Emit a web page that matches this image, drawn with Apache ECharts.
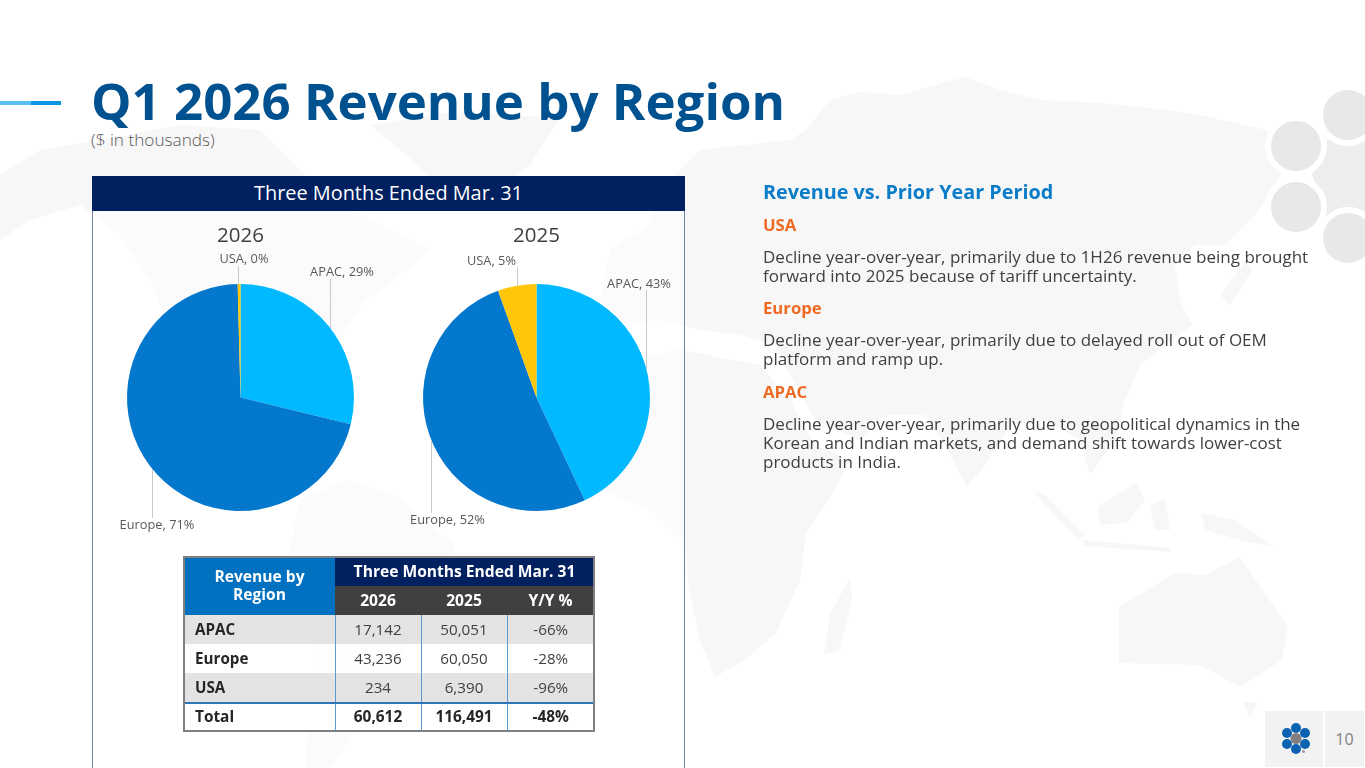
<!DOCTYPE html>
<html><head><meta charset="utf-8">
<script src="https://cdn.jsdelivr.net/npm/echarts@6/dist/echarts.min.js"></script>
<style>
html,body{margin:0;padding:0;background:#fff;overflow:hidden}
#slide{position:relative;width:1365px;height:768px;overflow:hidden;font-family:"Open Sans",sans-serif;color:#404040}
#bg{position:absolute;left:0;top:0}
.abs{position:absolute}
#title{left:91px;top:65px;font-size:51px;font-weight:700;color:#00518f;white-space:nowrap;line-height:70px}
#sub{left:91px;top:129px;font-size:17.2px;font-weight:300;color:#595959;line-height:22px}
#panel{left:92px;top:176px;width:593px;height:600px;border:1px solid #6f86a8;border-top:0;box-sizing:border-box;background:rgba(255,255,255,.5)}
#phead{left:92px;top:176px;width:593px;height:35px;background:#002060;color:#fff;font-size:19.9px;text-align:center;line-height:33px}
#chart{left:0;top:0;width:1365px;height:768px}
#tbl{left:184px;top:557px;width:410px;height:174px;border-collapse:collapse;table-layout:fixed;font-size:15.2px;outline:2px solid #7f7f7f;outline-offset:-1px}
#tbl td{padding:0 0 2px;height:27px;text-align:center;line-height:18px;border-left:1px solid #5b9bd5;box-sizing:content-box}
#tbl td.n{text-align:left;padding-left:11px;font-weight:700;color:#262626;border-left:0}
#tbl tr.s td{background:#e3e3e3}
#tbl tr.w td{background:rgba(255,255,255,.75)}
#tbl tr.t td{font-weight:700;color:#262626;background:#fff;border-top:2px solid #2e75b6;height:25px;font-size:15.4px}
#tbl th{padding:0 0 2px;color:#fff;font-weight:700;font-size:15.6px;line-height:18px}
#side{left:763px;top:177.500px;width:580px;font-size:17px;line-height:19px;color:#404040}
#side h3{margin:0 0 10px;font-size:19.8px;line-height:27px;font-weight:700;color:#0b7cc8}
#side h4{margin:0 0 13.200px;font-size:16.7px;line-height:19px;font-weight:700;color:#ef6b24}
#side p{margin:0 0 13.500px}
#pgn{left:1325px;top:711px;width:39px;height:56px;background:#f2f2f2;color:#7f7f7f;font-size:16px;line-height:56px;text-align:center}
#logoBox{left:1265px;top:711px;width:58px;height:56px;background:#f2f2f2}
</style></head><body>
<div id="slide">
<svg id="bg" width="1365" height="768" viewBox="0 0 1365 768">
 <g fill="#f7f7f7">
  <polygon points="0,175 40,150 100,140 180,125 260,130 300,170 330,200 390,230 430,250 395,280 365,300 345,330 320,365 300,400 270,430 235,420 195,380 170,330 150,280 120,235 80,205 30,220 0,240"/>
  <polygon points="370,125 450,112 560,118 530,165 480,205 440,185 400,150"/>
  <polygon points="300,500 345,480 395,495 455,545 450,590 410,640 380,690 350,740 330,768 305,768 310,700 315,640 285,570"/>
  <polygon points="600,300 610,250 650,225 660,190 700,150 745,145 790,140 806,130 830,100 860,92 900,95 965,77 1000,90 1040,100 1100,103 1150,108 1200,115 1266,130 1290,160 1275,185 1255,215 1225,245 1195,245 1175,265 1180,300 1192,325 1165,345 1140,365 1125,400 1115,440 1090,475 1080,440 1045,420 1010,425 985,465 967,487 945,445 925,415 885,415 860,440 815,420 790,375 775,345 740,335 700,330 660,320 625,325"/>
  <polygon points="585,400 620,360 680,350 760,365 790,400 815,445 850,460 835,490 806,533 800,580 776,633 745,660 715,677 700,640 689,590 685,545 650,510 600,490 580,440"/>
  <polygon points="824,655 830,615 850,577 852,600 840,650"/>
  <polygon points="1119,607 1175,573 1205,575 1240,557 1288,627 1282,660 1240,687 1200,665 1119,663"/>
  <polygon points="1243,702 1258,702 1250,718"/>
  <polygon points="1032,490 1045,495 1085,535 1078,540"/>
  <polygon points="1097,507 1136,483 1145,500 1127,523 1100,525"/>
  <polygon points="1084,540 1170,548 1170,552 1084,546"/>
  <polygon points="1201,513 1235,520 1275,547 1240,540 1205,530"/>
  <polygon points="1150,505 1165,500 1170,530 1155,530"/>
  <polygon points="1220,295 1245,262 1252,270 1230,305"/>
 </g>
 <g id="dots" stroke="#fff" stroke-width="6">
  <path d="M1312 175 L1326 140 L1365 140 L1365 225 L1326 215Z" fill="#ededed" stroke="none"/>
  <circle cx="1296" cy="146" r="28" fill="#e8e8e8"/>
  <circle cx="1296" cy="207" r="28" fill="#e8e8e8"/>
  <circle cx="1348" cy="115" r="28" fill="#e8e8e8"/>
  <circle cx="1348" cy="238" r="28" fill="#e8e8e8"/>
 </g>
 <rect x="0" y="101" width="31" height="4" fill="#56bdf5"/>
 <rect x="31" y="101" width="30" height="4" fill="#0b96e8"/>
</svg>
<div id="title" class="abs"></div>
<div id="sub" class="abs"></div>
<div id="panel" class="abs"></div>
<div id="phead" class="abs"></div>
<div id="chart" class="abs"></div>
<table id="tbl" class="abs"></table>
<div id="side" class="abs"></div>
<div id="logoBox" class="abs"><svg width="58" height="57"><g fill="#0b62b0"><circle cx="31" cy="17" r="5"/><circle cx="22" cy="22" r="5"/><circle cx="40" cy="22" r="5"/><circle cx="22" cy="33" r="5"/><circle cx="40" cy="33" r="5"/><circle cx="31" cy="38" r="5"/></g><circle cx="31" cy="27.5" r="5.5" fill="#7f7f7f"/><circle cx="38.500" cy="40.500" r="1.500" fill="#999"/></svg></div>
<div id="pgn" class="abs">10</div>
</div>
<script>
const titleText = 'Q1 2026 Revenue by Region';
const subText = '($ in thousands)';
const periodText = 'Three Months Ended Mar. 31';
const regions = ['APAC', 'Europe', 'USA'];
const years = ['2026', '2025'];
const colors = ['#00b9ff', '#0478cc', '#ffc60a'];
const share2026 = [28.8, 70.8, 0.4];
const share2025 = [43.0, 51.5, 5.5];
const label2026 = [29, 71, 0];
const label2025 = [43, 52, 5];
const rev2026 = ['17,142', '43,236', '234'];
const rev2025 = ['50,051', '60,050', '6,390'];
const yoy = ['-66%', '-28%', '-96%'];
const totals = ['60,612', '116,491', '-48%'];
const notes = [
 ['USA', 'Decline year-over-year, primarily due to 1H26 revenue being brought<br>forward into 2025 because of tariff uncertainty.'],
 ['Europe', 'Decline year-over-year, primarily due to delayed roll out of OEM<br>platform and ramp up.'],
 ['APAC', 'Decline year-over-year, primarily due to geopolitical dynamics in the<br>Korean and Indian markets, and demand shift towards lower-cost<br>products in India.']
];

document.getElementById('title').textContent = titleText;
document.getElementById('sub').textContent = subText;
document.getElementById('phead').textContent = periodText;
document.getElementById('side').innerHTML = '<h3>Revenue vs. Prior Year Period</h3>' +
  notes.map(n => `<h4>${n[0]}</h4><p>${n[1]}</p>`).join('');
document.getElementById('tbl').innerHTML =
 '<colgroup><col style="width:151px"><col style="width:86px"><col style="width:86px"><col style="width:87px"></colgroup>' +
 `<tr><th rowspan="2" style="background:#0070c0">Revenue by<br>Region</th><th colspan="3" style="background:#002060;height:27px">${periodText}</th></tr>` +
 `<tr><th style="background:#404040;height:27px">2026</th><th style="background:#404040">2025</th><th style="background:#404040">Y/Y %</th></tr>` +
 regions.map((r,i)=>`<tr class="${i%2?'w':'s'}"><td class="n">${r}</td><td>${rev2026[i]}</td><td>${rev2025[i]}</td><td>${yoy[i]}</td></tr>`).join('') +
 `<tr class="t"><td class="n">Total</td><td>${totals[0]}</td><td>${totals[1]}</td><td>${totals[2]}</td></tr>`;

const R = 113.5, CY = 397.5, CX = [240.5, 536.5];
// label centre x, centre y, leader x, leader start y  (per pie, per region)
const labelPlace = [
 [[342,272.5,330.5,279],[157,525.5,152.5,518],[244,259.5,238.5,266]],
 [[639,284,646.5,290],[447.5,520.5,431.5,513],[491.5,261.5,517.5,267]]
];
function makeSeries(idx, shares, labels){
  return {
    type:'pie', center:[CX[idx],CY], radius:[0,R], startAngle:90, clockwise:true,
    silent:true, animation:false, avoidLabelOverlap:false,
    itemStyle:{borderWidth:0},
    data: regions.map((r,i)=>({name:r,value:shares[i],itemStyle:{color:colors[i]}})),
    label:{show:true,position:'outside',fontFamily:'Open Sans',fontSize:12.8,color:'#595959',
      formatter:p=>`${p.name}, ${labels[p.dataIndex]}%`},
    labelLine:{show:true,length:10,length2:0,lineStyle:{color:'#c9c9c9',width:1}},
    labelLayout:p=>{
      const [x,y,lx,ly]=labelPlace[idx][p.dataIndex];
      const d=lx-CX[idx], edge=Math.sqrt(R*R-d*d);
      const ey= ly<CY ? CY-edge : CY+edge;
      return {x,y,align:'center',verticalAlign:'middle',labelLinePoints:[[lx,ly],[lx,(ly+ey)/2],[lx,ey]]};
    }
  };
}
const chart = echarts.init(document.getElementById('chart'),null,{renderer:'canvas'});
chart.setOption({
  backgroundColor:'transparent',
  animation:false,
  title: years.map((y,i)=>({text:y,left:CX[i],top:226,padding:0,textAlign:'center',textStyle:{fontFamily:'Open Sans',fontSize:20.5,fontWeight:400,color:'#404040'}})),
  series:[makeSeries(0,share2026,label2026),makeSeries(1,share2025,label2025)]
});
</script>
</body></html>
